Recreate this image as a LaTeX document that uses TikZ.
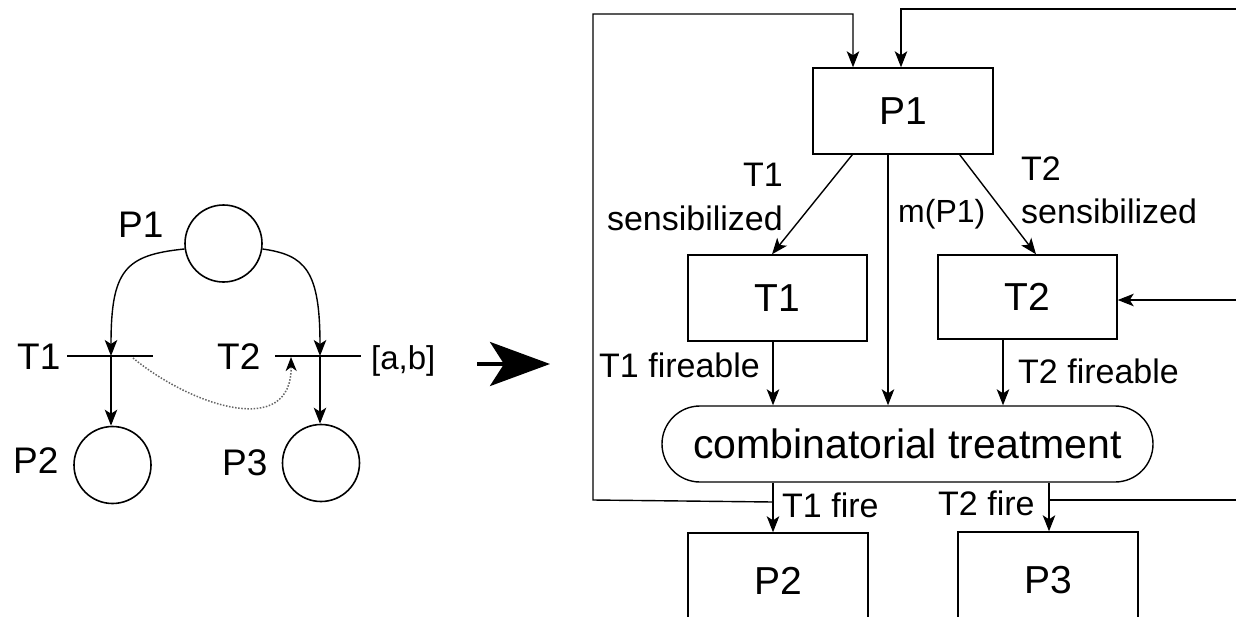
\documentclass[tikz,border=0pt]{standalone}
\usepackage{fontspec}
\setmainfont{Liberation Sans}
\usetikzlibrary{arrows.meta}
\newcommand{\fsz}[1]{\fontsize{#1}{#1}\selectfont}
\begin{document}
\begin{tikzpicture}[x=1pt,y=-1pt,
  conn/.style={line width=1.4pt, -{Stealth[length=16pt,width=12.5pt,inset=4pt]}},
  plain/.style={line width=1.4pt},
  box/.style={draw, line width=1.4pt, inner sep=0pt, font=\fsz{39}},
  place/.style={draw, circle, line width=1.6pt, minimum size=77pt, inner sep=0pt},
  lbl/.style={inner sep=0pt, font=\fsz{34}},
  big/.style={inner sep=0pt, font=\fsz{37}},
]
\useasboundingbox[fill=white] (0,0) rectangle (1236,616);

% ---------- left Petri net ----------
\node[place] (lP1) at (223.5,243.5) {};
\node[place] (lP2) at (112.5,465) {};
\node[place] (lP3) at (321,463) {};
\node[big, anchor=base west] (lP1l) at (118,237) {P1};
\node[big, anchor=base west] (lP2l) at (13,473) {P2};
\node[big, anchor=base west] (lP3l) at (222,475) {P3};
\node[big, anchor=base west] (lT1l) at (17,369) {T1};
\node[big, anchor=base west] (lT2l) at (217,369) {T2};
\node[lbl, anchor=base west, font=\fsz{33}] (ab) at (371,369) {[a,b]};

\coordinate (t1w) at (67,356);
\coordinate (t1e) at (153,356);
\coordinate (t1c) at (111,356);
\coordinate (t2w) at (275,356);
\coordinate (t2e) at (361,356);
\coordinate (t2c) at (320,356);
\draw[plain] (t1w) -- (t1e);
\draw[plain] (t2w) -- (t2e);
\draw[conn] (lP1.188) .. controls (125,255) and (111,270) .. (t1c);
\draw[conn] (lP1.-8) .. controls (305,255) and (320,270) .. (t2c);
\draw[conn] (t1c) -- (t1c |- lP2.north);
\draw[conn] (t2c) -- (t2c |- lP3.north);
\coordinate (ds) at (133,358);
\coordinate (de) at (291,357);
\draw[black!60, line width=1.5pt, dash pattern=on 1.5pt off 1.6pt, -{Stealth[length=14pt,width=11pt,inset=4pt,black]}] (ds) .. controls (190,405) and (292,440) .. (de);

% ---------- big arrow ----------
\coordinate (ba) at (477,364);
\coordinate (bb) at (550,364);
\draw[line width=4pt, -{Stealth[length=60pt,width=44pt,inset=14pt]}] (ba) -- (bb);

% ---------- right diagram ----------
\node[box, minimum width=180pt, minimum height=86pt] (P1) at (903,111) {P1};
\node[box, minimum width=179pt, minimum height=86pt] (T1) at (777.5,298) {T1};
\node[box, minimum width=179pt, minimum height=84pt] (T2) at (1027.5,297) {T2};
\node[box, rounded corners=38pt, minimum width=491pt, minimum height=76pt, font=\fsz{41}] (CT) at (907.5,444) {combinatorial treatment};
\node[box, minimum width=180pt, minimum height=96pt] (P2) at (778,581) {P2};
\node[box, minimum width=180pt, minimum height=96pt] (P3) at (1048,580) {P3};

\coordinate (p1a) at ([xshift=40pt]P1.south west);
\coordinate (t1a) at ([xshift=-5.5pt]T1.north);
\draw[conn] (p1a) -- (t1a);
\coordinate (p1b) at ([xshift=-34pt]P1.south east);
\coordinate (t2a) at ([xshift=8.5pt]T2.north);
\draw[conn] (p1b) -- (t2a);
\coordinate (p1c) at ([xshift=-15pt]P1.south);
\draw[conn] (p1c) -- (p1c |- CT.north);
\coordinate (t1b) at ([xshift=-4.5pt]T1.south);
\draw[conn] (t1b) -- (t1b |- CT.north);
\coordinate (t2b) at ([xshift=-24.5pt]T2.south);
\draw[conn] (t2b) -- (t2b |- CT.north);
\coordinate (c1) at (t1b |- CT.south);
\draw[conn] (c1) -- (c1 |- P2.north);
\coordinate (c2) at ([xshift=141.5pt]CT.south);
\draw[conn] (c2) -- (c2 |- P3.north);

% feedback loops
\coordinate (fb1) at (773,502);
\coordinate (p1top1) at ([xshift=-50pt]P1.north);
\draw[conn] (fb1) -- (593,500) -- (593,14) -- (p1top1 |- 0,14) -- (p1top1);
\coordinate (fb2) at (1049,500);
\coordinate (fbr) at (1236,500);
\draw[plain] (fb2) -- (fbr);
\coordinate (top2) at (1236,9);
\coordinate (p1top2) at ([xshift=-2pt]P1.north);
\draw[conn] (top2) -- (p1top2 |- top2) -- (p1top2);
\coordinate (rin) at (1236,300);
\draw[conn] (rin) -- (T2.east |- rin);

% labels
\node[lbl, anchor=base east] (s1a) at (783,186) {T1};
\node[lbl, anchor=base east] (s1b) at (783,230) {sensibilized};
\node[lbl, anchor=base west] (s2a) at (1021,180) {T2};
\node[lbl, anchor=base west] (s2b) at (1021,223) {sensibilized};
\node[lbl, anchor=base west, font=\fsz{32}] (mp) at (898,222) {m(P1)};
\node[lbl, anchor=base west] (f1) at (599,377) {T1 fireable};
\node[lbl, anchor=base west] (f2) at (1018,383) {T2 fireable};
\node[lbl, anchor=base west] (g1) at (782,517) {T1 fire};
\node[lbl, anchor=base west] (g2) at (938,515) {T2 fire};
\end{tikzpicture}
\end{document}
